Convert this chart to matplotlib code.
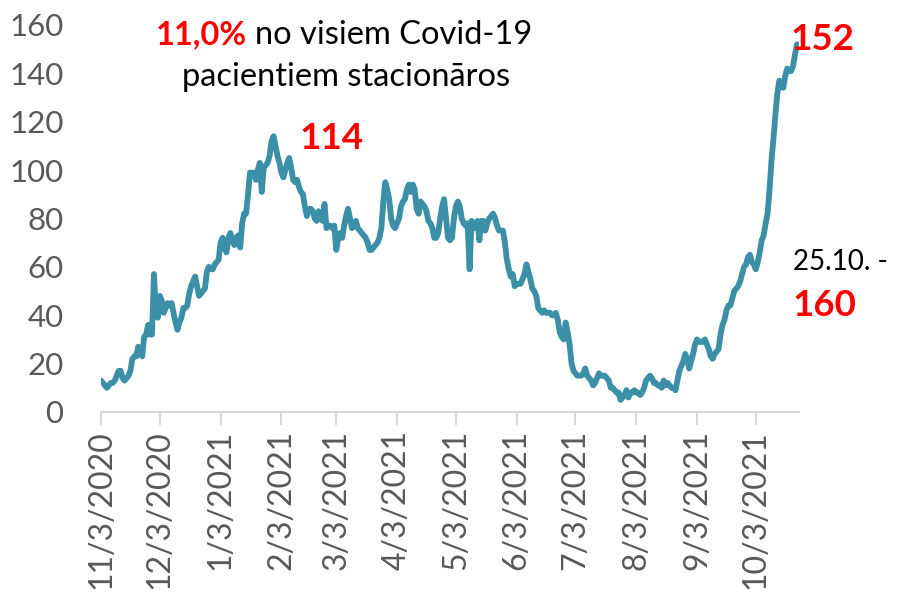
import matplotlib.pyplot as plt
import pandas as pd

# daily hospitalised Covid-19 patients, 3 Nov 2020 .. 24 Oct 2021
values = [
    13, 12, 11, 10, 11, 12, 12, 13, 15, 17,
    17, 14, 13, 14, 15, 17, 22, 23, 23, 27,
    24, 23, 31, 32, 36, 32, 32, 57, 42, 39,
    48, 46, 41, 43, 45, 44, 45, 41, 37, 34,
    37, 39, 43, 43, 44, 49, 52, 54, 56, 52,
    48, 49, 50, 51, 58, 60, 59, 59, 61, 62,
    63, 70, 72, 68, 66, 72, 74, 71, 69, 72,
    73, 68, 78, 82, 82, 90, 99, 98, 99, 96,
    100, 103, 91, 101, 102, 103, 106, 112, 114, 110,
    106, 103, 99, 97, 100, 103, 105, 101, 96, 95,
    96, 93, 91, 90, 85, 81, 84, 84, 83, 80,
    79, 83, 80, 79, 86, 76, 77, 77, 76, 77,
    67, 72, 74, 72, 77, 81, 84, 80, 76, 77,
    79, 76, 75, 74, 73, 72, 70, 67, 67, 68,
    69, 70, 72, 76, 87, 95, 92, 88, 80, 77,
    76, 78, 80, 85, 87, 88, 92, 94, 91, 94,
    92, 84, 82, 87, 86, 85, 83, 79, 78, 76,
    72, 72, 74, 80, 85, 88, 80, 72, 71, 72,
    80, 85, 87, 85, 80, 78, 77, 78, 59, 79,
    78, 76, 79, 71, 79, 79, 75, 78, 80, 81,
    82, 80, 77, 75, 75, 75, 70, 63, 59, 56,
    57, 52, 53, 53, 53, 55, 57, 61, 58, 55,
    51, 50, 48, 43, 42, 41, 42, 41, 41, 41,
    40, 40, 41, 38, 33, 31, 30, 37, 33, 28,
    20, 17, 16, 15, 15, 15, 16, 18, 15, 14,
    13, 11, 12, 14, 16, 15, 15, 15, 14, 13,
    10, 10, 9, 8, 8, 5, 6, 7, 9, 6,
    8, 8, 9, 8, 8, 7, 8, 10, 13, 14,
    15, 14, 12, 12, 11, 11, 10, 13, 11, 12,
    11, 10, 10, 9, 13, 17, 19, 21, 24, 22,
    18, 21, 24, 28, 30, 29, 29, 29, 30, 28,
    26, 23, 22, 24, 25, 26, 32, 36, 38, 42,
    44, 44, 47, 50, 51, 52, 54, 57, 60, 61,
    64, 65, 62, 61, 59, 62, 66, 71, 73, 78,
    82, 92, 104, 113, 123, 132, 137, 135, 134, 139,
    142, 141, 141, 143, 148, 152,
]
dates = pd.date_range("2020-11-03", periods=len(values), freq="D")

tick_dates = pd.date_range("2020-11-01", "2021-10-01", freq="MS") + pd.Timedelta(days=2)
tick_labels = [f"{d.month}/{d.day}/{d.year}" for d in tick_dates]

y_ticks = [0, 20, 40, 60, 80, 100, 120, 140, 160]

line_color = "#3b8fa6"
grey = "#595959"
red = "#ff0000"
font = ["Lato", "DejaVu Sans"]

fig = plt.figure(figsize=(8.97, 5.95), dpi=100)
ax = fig.add_axes([0.1126, 0.3076, 0.7781, 0.6504])

ax.plot(dates, values, color=line_color, lw=4.2, solid_joinstyle="round", solid_capstyle="round")

ax.set_xlim(dates[0], dates[-1] + pd.Timedelta(days=1))
ax.set_ylim(0, 160)
ax.set_yticks(y_ticks)
ax.set_yticklabels([str(v) for v in y_ticks], family=font, fontsize=22.5, color=grey)
ax.set_xticks(tick_dates)
ax.set_xticklabels(tick_labels, rotation=90, family=font, fontsize=23, color=grey)

for s in ["top", "right", "left"]:
    ax.spines[s].set_visible(False)
ax.spines["bottom"].set_color("#d9d9d9")
ax.spines["bottom"].set_linewidth(1.5)
ax.tick_params(axis="y", length=0, pad=27)
ax.tick_params(axis="x", length=9, width=1.5, color="#d9d9d9", pad=4)

# annotations
fig.text(0.2754, 0.941, "11,0%", color=red, fontsize=23.5, fontweight="bold", family=font,
         va="center", ha="right")
fig.text(0.2843, 0.941, "no visiem Covid-19", color="black", fontsize=23.5, family=font, va="center")
fig.text(0.3857, 0.87, "pacientiem stacionāros", color="black", fontsize=23.5, family=font,
         va="center", ha="center")
fig.text(0.334, 0.768, "114", color=red, fontsize=26.5, fontweight="bold", family=font, va="center")
fig.text(0.881, 0.933, "152", color=red, fontsize=26.5, fontweight="bold", family=font, va="center")
fig.text(0.884, 0.56, "25.10. -", color="black", fontsize=20, family=font, va="center")
fig.text(0.884, 0.487, "160", color=red, fontsize=26.5, fontweight="bold", family=font, va="center")

fig.savefig("out.png", dpi=100)
